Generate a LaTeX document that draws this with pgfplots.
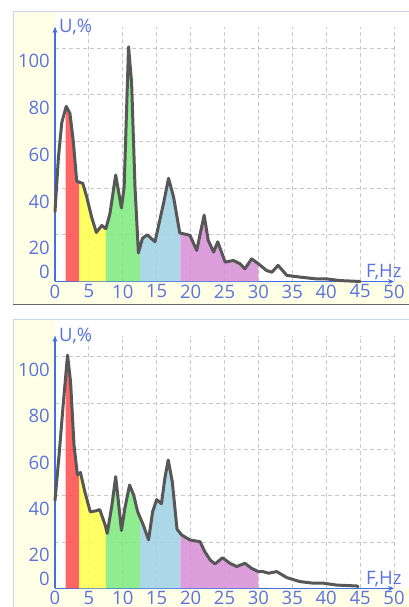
\documentclass[border=0pt]{standalone}
\usepackage{pgfplots}
\pgfplotsset{compat=1.18}
\usepackage{pgfplotstable}
\usetikzlibrary{arrows.meta}
\usepackage{fontspec}
\setmainfont{Open Sans}
\definecolor{lblue}{HTML}{5B73E0}
\definecolor{axblue}{HTML}{3F6FE0}
\definecolor{gridgray}{HTML}{C8C8C8}
\definecolor{paley}{HTML}{FFFFE6}
\definecolor{bordb}{HTML}{C5D5EE}
\definecolor{curveg}{HTML}{575757}
\definecolor{bred}{HTML}{FF4B4B}
\definecolor{byel}{HTML}{FFFF4B}
\definecolor{bgrn}{HTML}{7CEB7C}
\definecolor{bblu}{HTML}{9ED1E2}
\definecolor{bpur}{HTML}{D78FD7}

\pgfplotstableread{
f u
0 30
0.5 53
1.0 68
1.65 75
2.2 72
2.7 60
3.2 43
3.6 42.5
4.1 42
4.7 36
5.4 27.6
6.1 21
6.9 24
7.5 22.6
8.1 29
8.95 45.6
9.8 31.5
10.2 40.5
10.85 100.5
11.3 85
11.8 40.5
12.3 12.2
12.9 18.5
13.6 20
14.75 17
16.0 33.4
16.75 44.2
17.5 36
18.4 20.8
19.9 19.8
20.9 13.3
22.0 28.4
22.6 17.6
23.4 12.6
24.0 17
25.1 8.3
26.3 9
27.3 7.6
28.0 5.4
29.0 9.7
30.0 7.6
31.2 4.7
32.0 4
32.9 6.9
34.2 2.6
36.1 1.9
38.6 1.1
40.1 1.1
42.0 0.4
45 0
}\topdata

\pgfplotstableread{
f u
0 38
0.6 57.5
1.2 79
1.85 100.7
2.3 89
2.8 62
3.3 49
3.75 50
4.4 41.7
5.2 33
6.1 33.5
6.6 34
7.4 27.3
7.7 23.7
8.4 36
8.95 48.2
9.3 38.8
9.8 25
10.3 34.5
11.0 44.6
11.6 40.3
12.2 33
13.0 27.5
13.8 20.9
14.4 33.1
15.0 38.3
15.7 36.5
16.2 47.5
16.7 55.4
17.3 46
18.0 25.5
18.7 23
19.9 20.9
21.4 20.1
22.1 15.8
22.9 12.2
23.6 10.5
24.7 13.2
25.8 10.8
26.8 9.4
28.0 10.8
29.0 8.6
30.0 7.2
30.7 7.2
31.5 6.5
32.7 7.2
34.2 4.6
36.1 2.9
38.1 2.2
39.6 2.2
41.5 1.4
44.5 1
44.7 0.7
}\botdata

\pgfplotsset{eeg/.style={
  scale only axis, width=339pt,
  xmin=0, xmax=50, ymin=0, ymax=109,
  axis lines=left,
  axis line style={color=axblue, line width=1.2pt, -{Stealth[length=6pt,width=5pt]}},
  xtick={0,5,...,50}, ytick={20,40,60,80,100}, yticklabels={},
  major tick length=0,
  xmajorgrids, ymajorgrids,
  grid style={gridgray, dash pattern=on 4pt off 3pt, line width=0.9pt},
  extra y ticks={4,14.3,34.2,54.3,74.5,94.5},
  extra y tick labels={0,20,40,60,80,100},
  extra y tick style={grid=none, major tick length=0},
  tick label style={font=\fontsize{18.5}{20}\selectfont, text=lblue},
  xticklabel style={anchor=north, inner sep=1pt, yshift=-2pt},
  yticklabel style={anchor=east, inner sep=1pt, xshift=-4pt},
  clip=false,
  /pgf/number format/assume math mode=true,
}}

\newcommand{\oneband}[4]{%
  \begin{scope}
  \clip (axis cs:#1,0) rectangle (axis cs:#2,108);
  \addplot[fill=#3, fill opacity=0.85, draw=none] table[x=f,y=u]{#4} \closedcycle;
  \end{scope}
}
\newcommand{\bands}[1]{%
  \oneband{1.55}{3.55}{bred}{#1}
  \oneband{3.55}{7.5}{byel}{#1}
  \oneband{7.5}{12.5}{bgrn}{#1}
  \oneband{12.5}{18.5}{bblu}{#1}
  \oneband{18.5}{30}{bpur}{#1}
  \addplot[color=curveg, line width=3pt, line join=round, line cap=round] table[x=f,y=u]{#1};
  \node[anchor=west, text=lblue, font=\fontsize{18.5}{20}\selectfont, inner sep=0pt, xshift=4pt] at (rel axis cs:0,1) {U,\%};
  \node[anchor=base, text=lblue, font=\fontsize{18.5}{20}\selectfont, inner sep=0pt, yshift=3.5pt] at (axis cs:48.5,0) {F,Hz};
}

\begin{document}
\begin{tikzpicture}[x=1pt,y=1pt]
\fill[white] (0,0) rectangle (409,607);
% top panel
\fill[paley] (13,303) rectangle (409,595);
\fill[white] (55,325.5) rectangle (409,595);
\draw[bordb, line width=1pt] (13,303) -- (13,595) -- (409,595);
\draw[gray!80!black, line width=1.5pt] (13,302.7) -- (409,302.7);
% bottom panel
\fill[paley] (13,0) rectangle (409,287);
\fill[white] (55,18.7) rectangle (409,287);
\draw[bordb, line width=1pt] (13,0) -- (13,287) -- (409,287);

\begin{axis}[eeg, at={(55pt,325.5pt)}, anchor=south west, height=254.5pt]
\bands{\topdata}
\end{axis}

\begin{axis}[eeg, at={(55pt,18.7pt)}, anchor=south west, height=252.4pt]
\bands{\botdata}
\end{axis}
\pgfresetboundingbox
\useasboundingbox (0,0) rectangle (409,607);
\end{tikzpicture}
\end{document}
